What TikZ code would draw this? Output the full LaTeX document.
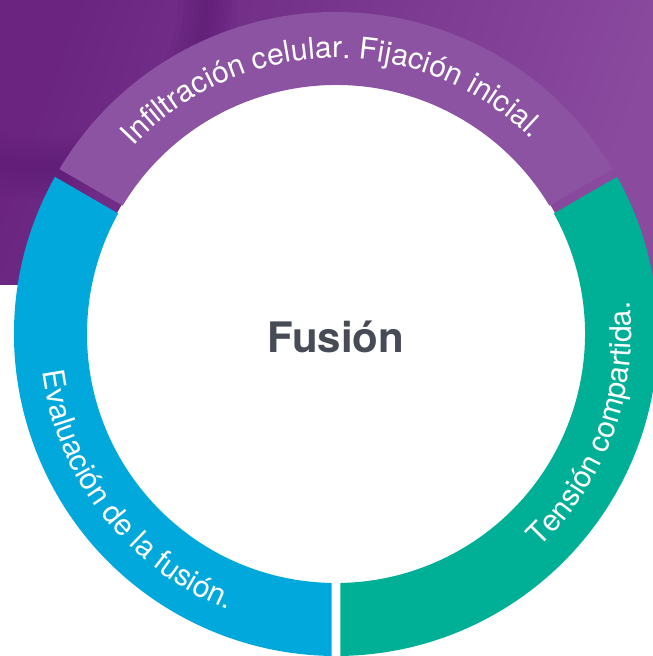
\documentclass[tikz,border=0pt]{standalone}
\usepackage{fontspec}
\setmainfont{TeX Gyre Heros}
\newfontfamily\ringfont{TeX Gyre Heros}
\usetikzlibrary{decorations.text}

\definecolor{bgpurple}{HTML}{7A3190}
\definecolor{bgdark}{HTML}{5E1C75}
\definecolor{bglight}{HTML}{8A4A9E}
\definecolor{ringpurple}{HTML}{8B53A1}
\definecolor{ringblue}{HTML}{00A8DB}
\definecolor{ringgreen}{HTML}{00B096}
\definecolor{titlegray}{HTML}{464B55}

\newcommand{\ringpart}[3]{%
  \fill[#3] ({#1+asin(4.5/322)}:322) arc[start angle={#1+asin(4.5/322)}, end angle={#2-asin(4.5/322)}, radius=322]
    -- ({#2-asin(4.5/249)}:249) arc[start angle={#2-asin(4.5/249)}, end angle={#1+asin(4.5/249)}, radius=249] -- cycle;}

\begin{document}
\begin{tikzpicture}[x=1pt, y=1pt,
    ring label/.style={decorate, decoration={text along path, text align=center, text color=white,
        text={|\ringfont\fontsize{30}{32}\selectfont|#1}}}]
  \useasboundingbox (-336,-322) rectangle (317,334);
  \begin{scope}
    \clip (-336,49) rectangle (317,334);
    \shade[left color=bgdark!55!bgpurple, right color=bglight, shading angle=70] (-336,49) rectangle (317,334);
    \foreach \w in {60,48,38,28,18,10}
      \draw[bgdark, opacity=0.14, line width=\w pt] (-296,334) circle[radius=168];
  \end{scope}
  \fill[white] (0,0) circle[radius=250];
  \ringpart{30}{150}{ringpurple}
  \ringpart{150}{270}{ringblue}
  \ringpart{-90}{30}{ringgreen}
  \path[ring label={Infiltración celular. Fijación inicial.}] (146:276) arc[start angle=146, end angle=36, radius=276];
  \path[ring label={Evaluación de la fusión.}] (180:296) arc[start angle=180, end angle=256, radius=296];
  \path[ring label={Tensión compartida.}] (-50:295) arc[start angle=-50, end angle=10, radius=295];
  \node[font=\bfseries\fontsize{42}{44}\selectfont, text=titlegray, anchor=base] (title) at (0,-18) {Fusión};
\end{tikzpicture}
\end{document}
